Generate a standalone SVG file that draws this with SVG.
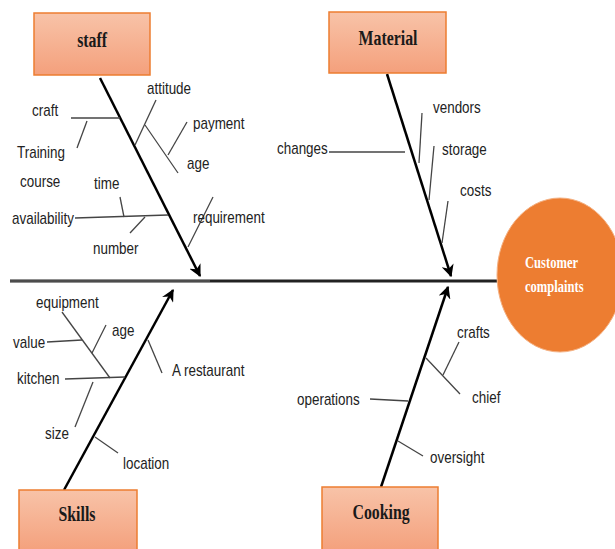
<svg xmlns="http://www.w3.org/2000/svg" width="615" height="549" viewBox="0 0 615 549">
<style>
.box{stroke:#ED7D31;stroke-width:1.5;fill:url(#g)}
.bt{font-family:"Liberation Serif",serif;font-weight:bold;font-size:22px;fill:#1a1a1a;text-anchor:middle;transform-box:fill-box;transform-origin:50% 50%;transform:scaleX(0.72)}
.lb{font-family:"Liberation Sans",Arial,sans-serif;font-size:16px;fill:#222;transform-box:fill-box;transform-origin:0 0;transform:scaleX(0.84)}
.bone{stroke:#000;stroke-width:2.5;fill:none;marker-end:url(#ah)}
.sub{stroke:#444;stroke-width:1.3;fill:none}
.ct{font-family:"Liberation Serif",serif;font-weight:bold;font-size:17px;fill:#fff;transform-box:fill-box;transform-origin:0 0;transform:scaleX(0.74)}
</style>
<defs>
<linearGradient id="g" x1="0" y1="0" x2="0" y2="1">
<stop offset="0" stop-color="#F8C3A8"/>
<stop offset="1" stop-color="#F4A07C"/>
</linearGradient>
<marker id="ah" viewBox="0 0 10 10" refX="9" refY="5" markerWidth="5" markerHeight="5" orient="auto" markerUnits="strokeWidth">
<path d="M0,0 L10,5 L0,10 L3,5 Z" fill="#000"/>
</marker>
</defs>
<rect width="615" height="549" fill="#fff"/>
<g id="connectors">
<line x1="10" y1="281" x2="497" y2="281" stroke="#222" stroke-width="3"/>
<line x1="10" y1="281" x2="210" y2="281" stroke="#777" stroke-width="1"/>
<line class="bone" x1="100" y1="78" x2="200" y2="276"/>
<line class="bone" x1="387" y1="74" x2="451" y2="276"/>
<line class="bone" x1="64" y1="490" x2="173" y2="290"/>
<line class="bone" x1="381" y1="487" x2="448" y2="287"/>
<line class="sub" x1="71" y1="118" x2="120" y2="118"/>
<line class="sub" x1="87" y1="121" x2="77" y2="148"/>
<line class="sub" x1="135" y1="145" x2="156" y2="100"/>
<line class="sub" x1="145" y1="125" x2="178" y2="173"/>
<line class="sub" x1="187" y1="122" x2="168" y2="155"/>
<line class="sub" x1="75" y1="218" x2="168" y2="215"/>
<line class="sub" x1="120" y1="197" x2="124" y2="217"/>
<line class="sub" x1="145" y1="217" x2="130" y2="233"/>
<line class="sub" x1="188" y1="247" x2="213" y2="197"/>
<line class="sub" x1="329" y1="152" x2="405" y2="152"/>
<line class="sub" x1="422" y1="113" x2="419" y2="163"/>
<line class="sub" x1="434" y1="146" x2="429" y2="200"/>
<line class="sub" x1="448" y1="201" x2="442" y2="243"/>
<line class="sub" x1="62" y1="312" x2="110" y2="378"/>
<line class="sub" x1="47" y1="342" x2="82" y2="340"/>
<line class="sub" x1="106" y1="325" x2="92" y2="353"/>
<line class="sub" x1="65" y1="379" x2="125" y2="377"/>
<line class="sub" x1="93" y1="382" x2="75" y2="427"/>
<line class="sub" x1="148" y1="340" x2="162" y2="373"/>
<line class="sub" x1="95" y1="437" x2="118" y2="453"/>
<line class="sub" x1="459" y1="342" x2="443" y2="375"/>
<line class="sub" x1="426" y1="358" x2="460" y2="394"/>
<line class="sub" x1="370" y1="399" x2="408" y2="401"/>
<line class="sub" x1="398" y1="441" x2="423" y2="456"/>
</g>
<g id="staff">
<rect class="box" x="34" y="13" width="116" height="62"/>
<text class="bt" x="92" y="47">staff</text>
</g>
<g id="material">
<rect class="box" x="329" y="12" width="117" height="61"/>
<text class="bt" x="388" y="45">Material</text>
</g>
<g id="skills">
<rect class="box" x="19" y="490" width="118" height="62"/>
<text class="bt" x="77" y="521">Skills</text>
</g>
<g id="cooking">
<rect class="box" x="322" y="487" width="116" height="65"/>
<text class="bt" x="381" y="519">Cooking</text>
</g>
<g id="customer-complaints">
<ellipse cx="560" cy="275" rx="63" ry="77" fill="#ED7D31" stroke="#F4B183" stroke-width="1"/>
<text class="ct" x="525" y="268">Customer</text>
<text class="ct" x="525" y="292">complaints</text>
</g>
<g id="labels">
<text class="lb" x="32" y="116">craft</text>
<text class="lb" x="17" y="158">Training</text>
<text class="lb" x="20" y="187">course</text>
<text class="lb" x="147" y="94">attitude</text>
<text class="lb" x="193" y="129">payment</text>
<text class="lb" x="187" y="169">age</text>
<text class="lb" x="94" y="189">time</text>
<text class="lb" x="12" y="224">availability</text>
<text class="lb" x="93" y="254">number</text>
<text class="lb" x="193" y="223">requirement</text>
<text class="lb" x="277" y="154">changes</text>
<text class="lb" x="433" y="113">vendors</text>
<text class="lb" x="442" y="155">storage</text>
<text class="lb" x="460" y="196">costs</text>
<text class="lb" x="36" y="308">equipment</text>
<text class="lb" x="13" y="348">value</text>
<text class="lb" x="112" y="336">age</text>
<text class="lb" x="17" y="384">kitchen</text>
<text class="lb" x="45" y="439">size</text>
<text class="lb" x="172" y="376">A restaurant</text>
<text class="lb" x="123" y="469">location</text>
<text class="lb" x="457" y="338">crafts</text>
<text class="lb" x="472" y="403">chief</text>
<text class="lb" x="297" y="405">operations</text>
<text class="lb" x="430" y="463">oversight</text>
</g>
</svg>
